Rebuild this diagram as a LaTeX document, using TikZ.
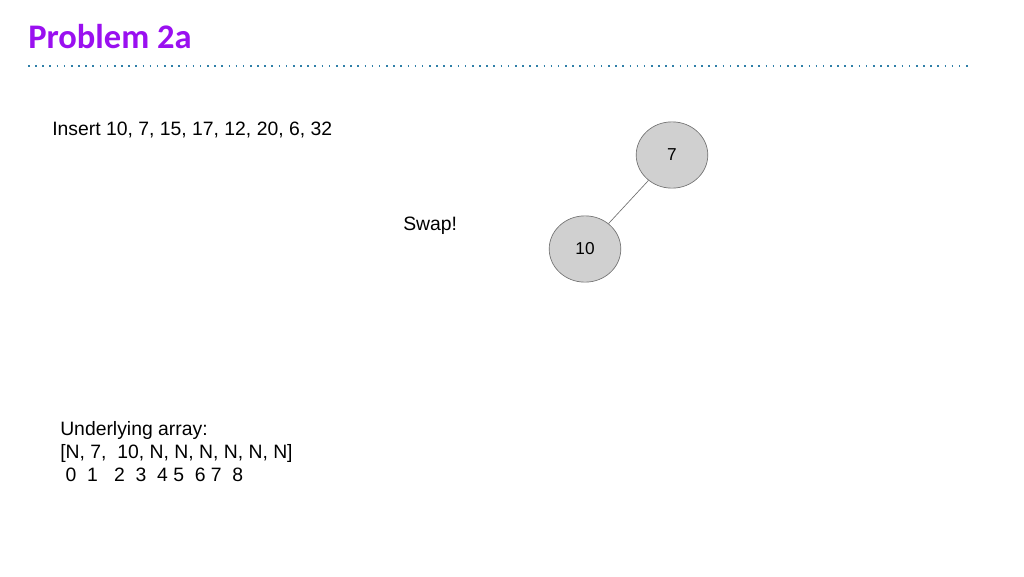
\documentclass[tikz,border=0pt]{standalone}
\usepackage{fontspec}
\setmainfont{Liberation Sans}
\newfontfamily\titlefont{Carlito}
\usetikzlibrary{shapes.geometric}
\definecolor{titlepurple}{HTML}{9A10F0}
\definecolor{rulecolor}{HTML}{2F7FA8}
\definecolor{heapfill}{HTML}{D0D0D0}
\definecolor{heapline}{HTML}{707070}
\begin{document}
\begin{tikzpicture}[x=0.0265cm, y=-0.0265cm]

    \tikzstyle{heap} = [ellipse, draw=heapline, fill=heapfill, line width=.5pt,
        minimum width=54pt, minimum height=50pt, font=\fontsize{13}{15}\selectfont, inner sep=0pt]
    \tikzstyle{txt} = [anchor=north west, inner sep=0pt, font=\fontsize{14.6}{17.6}\selectfont, align=left]

    \useasboundingbox (0,0) rectangle (1024,576);

    % Title and rule
    \node[anchor=west, inner sep=0pt, text=titlepurple, font=\titlefont\bfseries\fontsize{26}{30}\selectfont]
        (title) at (28,37) {Problem 2a};
    \draw[rulecolor, line width=1.2pt, dash pattern=on 1.2pt off 4.2pt] (28,66) -- (968,66);

    % Texts
    \node[txt] (ins) at (52,122) {Insert 10, 7, 15, 17, 12, 20, 6, 32};
    \node[txt] (swap) at (403,217) {Swap!};
    \node[txt] (arr) at (60,421) {Underlying array:\\{}[N, 7, \ 10, N, N, N, N, N, N]\\
        \ 0 \ 1 \ \ 2 \ 3 \ 4 5 \ 6 7 \ 8};

    % Heap
    \node[heap] (n7) at (672,155) {7};
    \node[heap] (n10) at (585,249) {10};
    \draw[heapline, line width=.5pt] (n7) -- (n10);

\end{tikzpicture}
\end{document}
